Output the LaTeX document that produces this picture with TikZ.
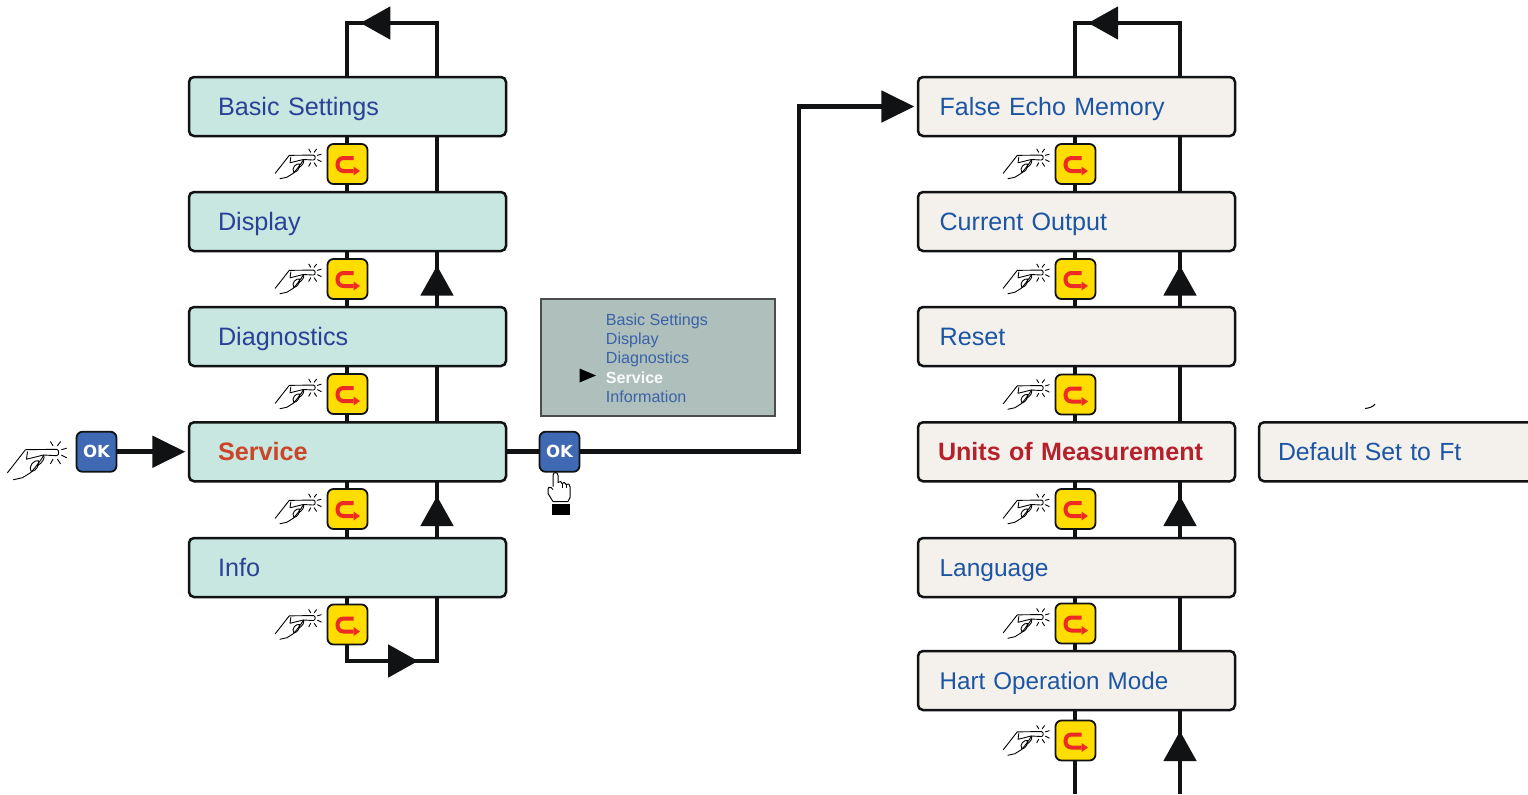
\documentclass[tikz,border=0pt]{standalone}
\usepackage{fontspec}
\setmainfont{Liberation Sans}
\newfontfamily\okfont{DejaVu Sans}
\usetikzlibrary{arrows.meta,backgrounds,decorations.markings,calc}
\definecolor{lineK}{HTML}{111213}
\definecolor{tealbox}{HTML}{C7E7E0}
\definecolor{creambox}{HTML}{F4F1ED}
\definecolor{blueL}{HTML}{2B4198}
\definecolor{blueR}{HTML}{1B55A3}
\definecolor{redL}{HTML}{CB4529}
\definecolor{redR}{HTML}{B5202B}
\definecolor{okblue}{HTML}{3F69B3}
\definecolor{yellowb}{HTML}{FFDD00}
\definecolor{redarrow}{HTML}{EE2A24}
\definecolor{lcd}{HTML}{AEBFBC}
\definecolor{lcdtext}{HTML}{3B62A8}
\newcommand{\menufont}[1]{\fontsize{#1}{15}\selectfont}
\tikzset{
  menubox/.style={draw=lineK,line width=1.25pt,rounded corners=2.5pt,minimum width=158.5pt,outer sep=0pt,
    inner xsep=#1,text width=158.5pt-2*#1,align=left,text height=9.2pt,text depth=0.7pt,font=\menufont{12.6}},
  menuL/.style={menubox=14.5pt,fill=tealbox,text=blueL,minimum height=29.5pt},
  menuR/.style={menubox=10.8pt,fill=creambox,text=blueR,minimum height=29.5pt},
  ybtn/.style={draw=lineK,fill=yellowb,line width=0.9pt,rounded corners=3pt,minimum size=20pt,inner sep=0pt,outer sep=0pt},
  okbtn/.style={draw=lineK,fill=okblue,line width=0.9pt,rounded corners=3pt,minimum size=20pt,inner sep=0pt,outer sep=0pt,
    text=white,font=\okfont\bfseries\fontsize{8.3}{10}\selectfont},
  flow/.style={draw=lineK,line width=2.45pt,line join=miter},
  flowtip/.style={flow,-{Triangle[length=16.5pt,width=15.5pt]},shorten >=1.8pt},
  midtip/.style={flow,postaction={decorate},decoration={markings,mark=at position #1 with {\arrow[lineK]{Triangle[length=15pt,width=16pt]}}}},
  thinhand/.style={draw=black,line width=0.45pt,line cap=round,line join=round},
  presshand/.pic={
    \draw[thinhand] (-51,20) -- (-33,-3) -- (-2,-3.4) .. controls (1,-3.4) and (1,3) .. (-2,3) -- (-15,2.3);
    \draw[thinhand] (-31,-1) -- (-32,6.5) -- (-15,2.3) .. controls (-13,5) and (-16,10) .. (-21,13);
    \draw[thinhand] (-45,27) -- (-36,25) -- (-28,20) .. controls (-24,16) and (-18,8) .. (-15,3);
    \draw[thinhand] (-27,19) .. controls (-31,13) and (-24,7) .. (-20,8) .. controls (-19,12) and (-22,18) .. (-27,19);
    \draw[thinhand] (-8,-11) -- (-5.5,-7);
    \draw[thinhand] (2,-11) -- (-1,-7);
    \draw[thinhand] (8,-4.5) -- (3,-3);
    \draw[thinhand] (8,5) -- (3,2.5);
    \draw[thinhand] (2,11) -- (-1,6.5);
    \draw[thinhand] (-8,11) -- (-5.5,6.5);
  },
  uturn/.pic={
    \draw[redarrow,line width=2pt] (6,-6) -- (-4,-6) .. controls (-12,-6) and (-12,7) .. (-4,7) -- (6,7);
    \fill[redarrow] (6,2.5) -- (12.5,7) -- (6,11.5) -- cycle;
  },
  pointhand/.pic={
    \draw[draw=black,fill=white,line width=0.5pt,line join=round]
      (-3,-2) -- (-3,-13) .. controls (-3,-17) and (2,-17) .. (2,-13) -- (2,-6)
      .. controls (4,-8) and (6,-7) .. (6,-5) .. controls (7,-7) and (10,-6) .. (10,-4)
      .. controls (12,-6) and (14,-4) .. (14,-2) -- (14,9) -- (12,13) -- (-3,13) -- (-8,5) -- (-8,1) .. controls (-8,-2) and (-5,-2) .. (-3,1);
    \draw[black,line width=0.4pt] (6,-5) -- (6,-1) (10,-4) -- (10,-1);
  }
}
\newcommand{\stepbutton}[3]{%
  \node[ybtn] (#1) at (#2,#3) {};
  \pic at (#1.center) {uturn};
  \pic[scale=0.78] at ($(#1.center)+(-32.5,-6.3)$) {presshand};
}
\begin{document}
\begin{tikzpicture}[x=0.5pt,y=-0.5pt]
\useasboundingbox (0,0) rectangle (1528,794);
\clip (0,0) rectangle (1528,794);

\coordinate (railA) at (347,0);
\coordinate (railB) at (437,0);
\coordinate (railC) at (1075,0);
\coordinate (railD) at (1180,0);

% left column
\node[menuL] (basic) at (347.5,106.5) {Basic Settings};
\node[menuL] (display) at (347.5,221.5) {Display};
\node[menuL] (diag) at (347.5,336.5) {Diagnostics};
\node[menuL,text=redL,font=\menufont{12.6}\bfseries] (service) at (347.5,451.75) {Service};
\node[menuL] (info) at (347.5,567.5) {Info};
\stepbutton{la}{347.5}{164}
\stepbutton{lb}{347.5}{279}
\stepbutton{lc}{347.5}{394}
\stepbutton{ld}{347.5}{509}
\stepbutton{le}{347.5}{624.5}

% right column
\node[menuR,font=\menufont{12.5}] (echo) at (1076.5,106.5) {False Echo Memory};
\node[menuR,font=\menufont{12.55}] (current) at (1076.5,221.5) {Current Output};
\node[menuR] (reset) at (1076.5,336.5) {Reset};
\node[menuR,text=redR,font=\menufont{12.55}\bfseries,inner xsep=10pt,text width=138.5pt] (units) at (1076.5,451.75) {Units of Measurement};
\node[menuR,font=\menufont{12.25}] (language) at (1076.5,567.5) {Language};
\node[menuR,font=\menufont{12.1}] (hart) at (1076.5,680.5) {Hart Operation Mode};
\stepbutton{ra}{1075.5}{164}
\stepbutton{rb}{1075.5}{279}
\stepbutton{rc}{1075.5}{394.5}
\stepbutton{rd}{1075.5}{509}
\stepbutton{re}{1075.5}{623.5}
\stepbutton{rf}{1075.5}{740.5}

\node[menuR,minimum width=200pt,inner xsep=9.5pt,text width=181pt,font=\menufont{12.4}] (default) at (1459,451.75) {Default Set to Ft};
\draw[black,line width=0.5pt] (1365,408.5) .. controls (1369,408) and (1373,407) .. (1375,404);

% LCD
\node[draw=black!70,line width=0.7pt,fill=lcd,minimum width=117pt,minimum height=58.5pt,inner sep=0pt,outer sep=0pt] (lcdbox) at (658,357.5) {};
\node[anchor=west,inner sep=0pt,align=left,text=lcdtext,font=\fontsize{8.05}{9.65}\selectfont] (lcdtxt) at (605.5,358)
  {Basic Settings\\Display\\Diagnostics\\\textcolor{white!93!lcd}{\bfseries Service}\\Information};
\fill[black] (579.5,368.5) -- (596,375.5) -- (579.5,382.5) -- cycle;

% OK buttons
\node[okbtn] (oka) at (96.5,451.75) {OK};
\node[okbtn] (okb) at (559.5,451.75) {OK};
\pic at (58.5,452.7) {presshand};
\pic at (556,488.5) {pointhand};
\fill[black] (552,503.5) rectangle (570,515);

\coordinate (elbow) at (799,106.5);
\coordinate (topA) at (347,23);
\coordinate (topB) at (437,23);
\coordinate (botA) at (347,661);
\coordinate (botB) at (437,661);
\coordinate (topC) at (1075,23);
\coordinate (topD) at (1180,23);
\coordinate (endC) at (1075,794);
\coordinate (endD) at (1180,794);

\begin{scope}[on background layer]
  % left centre rail
  \draw[flow] (basic.south -| railA) -- (display.north -| railA);
  \draw[flow] (display.south -| railA) -- (diag.north -| railA);
  \draw[flow] (diag.south -| railA) -- (service.north -| railA);
  \draw[flow] (service.south -| railA) -- (info.north -| railA);
  % left return rail
  \draw[midtip=0.66] (basic.north -| railB) -- (topB) -- (topA) -- (basic.north -| railA);
  \draw[flow] (basic.south -| railB) -- (display.north -| railB);
  \draw[midtip=0.74] (diag.north -| railB) -- (display.south -| railB);
  \draw[flow] (diag.south -| railB) -- (service.north -| railB);
  \draw[midtip=0.74] (info.north -| railB) -- (service.south -| railB);
  \draw[midtip=0.62] (info.south -| railA) -- (botA) -- (botB) -- (info.south -| railB);
  % entry and jump
  \draw[flowtip] (oka) -- (service.west);
  \draw[flow] (service.east) -- (okb);
  \draw[flowtip] (okb) -| (elbow) -- (echo.west);
  % right centre rail
  \draw[flow] (echo.south -| railC) -- (current.north -| railC);
  \draw[flow] (current.south -| railC) -- (reset.north -| railC);
  \draw[flow] (reset.south -| railC) -- (units.north -| railC);
  \draw[flow] (units.south -| railC) -- (language.north -| railC);
  \draw[flow] (language.south -| railC) -- (hart.north -| railC);
  \draw[flow] (hart.south -| railC) -- (endC);
  % right return rail
  \draw[midtip=0.685] (echo.north -| railD) -- (topD) -- (topC) -- (echo.north -| railC);
  \draw[flow] (echo.south -| railD) -- (current.north -| railD);
  \draw[midtip=0.74] (reset.north -| railD) -- (current.south -| railD);
  \draw[flow] (reset.south -| railD) -- (units.north -| railD);
  \draw[midtip=0.74] (language.north -| railD) -- (units.south -| railD);
  \draw[flow] (language.south -| railD) -- (hart.north -| railD);
  \draw[midtip=0.75] (endD) -- (hart.south -| railD);
\end{scope}
\end{tikzpicture}
\end{document}
